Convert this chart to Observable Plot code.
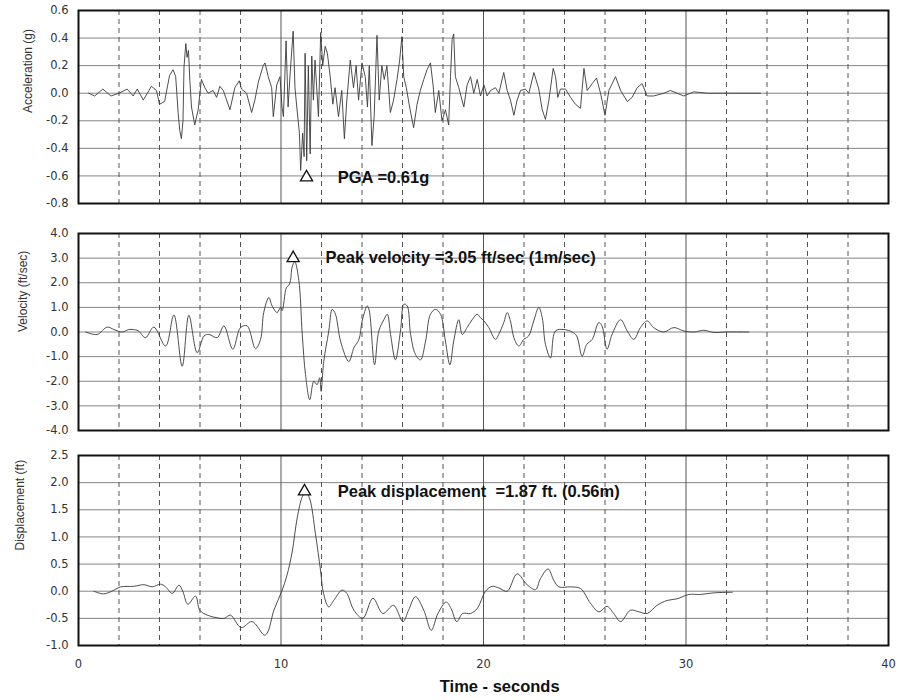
<!DOCTYPE html>
<html><head><meta charset="utf-8">
<script src="https://cdn.jsdelivr.net/npm/d3@7"></script>
<script src="https://cdn.jsdelivr.net/npm/@observablehq/plot@0.6"></script>
<style>body{margin:0;background:#fff}#chart svg{display:block}</style>
</head><body><div id="chart"></div>
<script>
// ---------- Data ----------
const accTime = [0.5,0.8,1.2,1.6,2.0,2.4,2.7,2.9,3.2,3.6,3.85,4.0,4.25,4.5,4.67,4.8,4.92,5.0,5.08,5.16,5.21,5.3,5.36,5.43,5.5,5.58,5.74,5.91,6.07,6.24,6.4,6.65,6.82,6.98,7.15,7.48,7.72,7.94,8.05,8.3,8.55,8.71,8.88,9.12,9.21,9.37,9.54,9.62,9.79,9.95,10.05,10.12,10.25,10.35,10.45,10.6,10.69,10.78,10.91,10.97,11.07,11.14,11.19,11.27,11.35,11.44,11.52,11.6,11.68,11.85,11.96,12.06,12.18,12.29,12.43,12.56,12.67,12.84,13.0,13.13,13.25,13.42,13.58,13.71,13.83,14.0,14.16,14.27,14.36,14.49,14.6,14.74,14.85,14.98,15.1,15.23,15.4,15.56,15.73,15.86,15.97,16.06,16.19,16.35,16.55,16.72,16.88,17.05,17.21,17.38,17.51,17.62,17.79,17.95,18.12,18.28,18.37,18.45,18.53,18.61,18.78,19.03,19.19,19.36,19.52,19.69,19.85,20.02,20.18,20.35,20.59,20.76,21.0,21.17,21.33,21.5,21.66,21.83,22.07,22.24,22.49,22.73,22.9,23.06,23.23,23.44,23.56,23.67,23.8,24.05,24.3,24.54,24.79,24.96,25.12,25.37,25.58,25.78,26.0,26.19,26.52,26.77,27.1,27.34,27.59,27.83,28.08,28.41,28.91,29.23,29.56,29.89,30.39,31.04,32.36,33.68];
const accValue = [0.0,-0.02,0.03,-0.02,0.0,0.03,-0.02,0.03,-0.05,0.05,0.02,-0.08,-0.06,0.13,0.17,0.12,-0.14,-0.27,-0.33,-0.2,0.19,0.36,0.26,0.31,0.09,-0.1,-0.23,-0.12,0.1,0.04,0.0,0.02,-0.03,0.05,0.02,-0.12,0.04,0.09,0.03,0.0,-0.14,-0.05,0.08,0.2,0.22,0.12,0.04,-0.17,0.06,0.12,-0.1,-0.17,0.38,-0.1,0.14,0.45,0.04,-0.1,-0.29,-0.56,-0.29,-0.46,0.29,-0.49,0.2,-0.44,0.27,-0.05,0.24,-0.17,0.44,0.2,0.34,0.29,0.12,-0.08,0.04,-0.17,0.02,-0.33,-0.05,0.24,0.04,0.2,-0.05,0.22,0.12,-0.1,0.2,-0.38,-0.17,0.42,-0.05,0.2,0.1,0.2,-0.14,-0.05,0.1,0.24,0.41,0.12,0.04,-0.1,-0.25,-0.08,0.02,0.1,0.17,0.22,0.06,-0.14,0.02,-0.2,-0.12,-0.23,0.12,0.39,0.43,0.12,0.04,-0.1,0.06,0.12,0.0,0.1,-0.02,0.06,-0.02,0.02,0.04,0.0,0.15,0.02,-0.05,-0.16,-0.05,0.02,0.03,0.0,0.15,0.03,-0.12,-0.19,-0.05,0.18,0.12,-0.03,0.03,0.03,-0.03,-0.08,-0.11,0.18,0.02,0.07,0.11,0.0,-0.16,0.02,0.12,0.02,-0.06,-0.03,0.04,0.07,-0.02,-0.02,0.0,0.02,0.0,-0.02,0.01,0.0,0.0,0.0];

const velTime = [0.35,0.92,1.42,1.75,2.16,2.48,2.7,2.95,3.31,3.72,4.3,4.71,5.12,5.45,5.86,6.2,6.44,6.85,7.18,7.62,8.0,8.33,8.74,8.99,9.15,9.4,9.56,9.81,9.98,10.06,10.27,10.39,10.47,10.55,10.68,10.88,11.05,11.21,11.42,11.62,11.78,11.91,11.98,12.11,12.36,12.53,12.69,12.94,13.35,13.6,13.85,14.01,14.26,14.36,14.62,14.83,15.08,15.25,15.41,15.65,15.9,16.07,16.23,16.4,16.64,16.89,17.14,17.38,17.63,17.88,18.12,18.34,18.53,18.78,18.95,19.19,19.44,19.69,19.85,20.02,20.26,20.59,20.75,21.0,21.17,21.33,21.5,21.74,21.99,22.23,22.48,22.73,22.9,23.06,23.31,23.55,23.97,24.38,24.6,24.87,25.1,25.37,25.69,25.85,26.1,26.35,26.77,27.1,27.42,27.75,28.08,28.4,28.9,29.4,29.89,30.4,30.88,31.37,32.0,33.1];
const velValue = [0,-0.1,0.2,0.1,0,0.1,0.1,0.05,-0.23,0.2,-0.57,0.69,-1.39,0.68,-0.84,-0.16,-0.1,-0.23,0.25,-0.7,0.18,0.25,-0.68,-0.3,0.8,1.4,1.06,0.79,1.0,0.87,1.81,1.9,2.1,2.64,2.85,2.1,-0.1,-1.73,-2.75,-2.0,-2.14,-1.86,-2.41,-1.2,0.04,0.92,0.72,-0.37,-1.2,-0.64,-0.3,0.45,1.06,0.86,-1.33,0.04,0.5,0.72,-0.1,-1.13,0.04,1.13,1.06,-0.1,-0.91,-1.13,-0.37,0.72,0.92,0.72,-0.37,-1.33,-0.37,0.5,-0.1,0.18,0.5,0.72,0.58,0.45,0.18,-0.3,-0.1,0.38,0.79,0.45,-0.23,-0.57,-0.3,-0.16,0.45,1.0,0.58,-0.5,-1.05,0.04,0.1,0.0,-0.16,-0.98,-0.5,-0.3,0.38,0.25,-0.7,-0.1,0.5,0.04,-0.3,0.18,0.45,0.18,0.0,0.18,0.04,0.0,0.07,-0.02,0.0,0.0];

const dispTime = [0.76,1.25,1.75,2.08,2.73,3.23,3.64,4.05,4.3,4.63,4.96,5.15,5.4,5.78,5.99,6.35,6.85,7.2,7.5,8.03,8.57,9.19,9.35,9.65,10.04,10.3,10.55,10.8,11.05,11.21,11.42,11.7,11.95,12.1,12.36,12.6,13.02,13.25,13.6,14.04,14.54,15.03,15.56,16.02,16.3,16.64,17.05,17.42,17.75,18.16,18.4,18.68,18.97,19.36,19.69,20.1,20.43,20.76,21.17,21.66,22.15,22.57,22.81,23.19,23.47,23.72,24.3,24.79,25.28,25.7,26.1,26.43,26.77,27.26,27.67,28.08,28.57,29.07,29.56,30.14,30.72,31.37,32.28];
const dispValue = [0.0,-0.05,0.02,0.08,0.09,0.12,0.08,0.13,0.08,-0.04,0.11,0.0,-0.24,-0.09,-0.35,-0.44,-0.49,-0.5,-0.44,-0.67,-0.56,-0.81,-0.75,-0.35,0.0,0.3,0.72,1.35,1.74,1.84,1.7,1.06,0.39,-0.04,-0.29,-0.17,0.02,-0.04,-0.35,-0.5,-0.13,-0.41,-0.26,-0.56,-0.35,-0.1,-0.35,-0.72,-0.41,-0.2,-0.32,-0.56,-0.41,-0.41,-0.32,0.0,0.09,0.06,0.0,0.32,0.12,0.03,0.23,0.41,0.2,0.08,0.08,0.05,-0.22,-0.38,-0.28,-0.41,-0.56,-0.35,-0.38,-0.41,-0.26,-0.17,-0.14,-0.06,-0.06,-0.03,-0.02];

const xTickLabels = [0, 10, 20, 30, 40];
const xMajorLines = [10, 20, 30];
const xMinorLines = [2, 4, 6, 8, 12, 14, 16, 18, 22, 24, 26, 28, 32, 34, 36, 38];
const accTicks = [-0.8, -0.6, -0.4, -0.2, 0.0, 0.2, 0.4, 0.6];
const velTicks = [-4, -3, -2, -1, 0, 1, 2, 3, 4];
const dispTicks = [-1.0, -0.5, 0.0, 0.5, 1.0, 1.5, 2.0, 2.5];

const yTitles = ["Acceleration (g)", "Velocity (ft/sec)", "Displacement (ft)"];
const xTitle = "Time - seconds";
const peakTime = [11.26, 10.6, 11.16];
const peakValue = [-0.61, 3.0, 1.84];
const peakLabels = ["PGA =0.61g", "Peak velocity =3.05 ft/sec (1m/sec)", "Peak displacement  =1.87 ft. (0.56m)"];
const peakLabelTime = [12.8, 12.2, 12.8];

// ---------- Drawing ----------
const toRows = (ts, vs) => ts.map((t, i) => ({t, v: vs[i]}));
const font = "'Liberation Sans', Arial, sans-serif";

function panel(o) {
  const rows = toRows(o.time, o.value);
  const marks = [
    Plot.ruleY(o.ticks, {stroke: "#858585", strokeWidth: 1}),
    Plot.ruleX(xMinorLines, {stroke: "#555", strokeWidth: 1, strokeDasharray: "5,4"}),
    Plot.ruleX(xMajorLines, {stroke: "#555", strokeWidth: 1}),
    Plot.line(rows, {x: "t", y: "v", stroke: "#3a3a3a", strokeWidth: 0.9, curve: o.curve}),
    Plot.frame({stroke: "#111", strokeWidth: 2}),
    Plot.axisY(o.ticks, {tickSize: 0, tickPadding: 10, tickFormat: d => d.toFixed(1), label: null,
      fontFamily: "'DejaVu Sans', sans-serif", fontSize: 11.5, fill: "#333"}),
    Plot.text([o.title], {frameAnchor: "left", rotate: -90, dx: -o.titleDx, dy: o.titleDy || 0,
      fontSize: 12, fill: "#333", fontFamily: font}),
    Plot.dot([o.idx], {x: i => peakTime[i], y: i => peakValue[i], symbol: "triangle", r: 4.5,
      stroke: "#111", strokeWidth: 1.3, fill: "white"}),
    Plot.text([o.idx], {x: i => peakLabelTime[i], y: i => peakValue[i], text: i => peakLabels[i],
      textAnchor: "start", fontWeight: "bold", fontSize: 16.5, fill: "#111", fontFamily: font})
  ];
  if (o.xAxis) {
    marks.push(Plot.axisX(xTickLabels, {tickSize: 0, tickPadding: 14, label: null,
      fontFamily: "'DejaVu Sans', sans-serif", fontSize: 11.5, fill: "#333"}));
    marks.push(Plot.text([xTitle], {x: 20.8, frameAnchor: "bottom", dy: 46, fontWeight: "bold",
      fontSize: 16.5, fill: "#111", fontFamily: font}));
  }
  return Plot.plot({
    width: 901, height: o.height,
    marginLeft: 78, marginRight: 13, marginTop: o.mt, marginBottom: o.mb,
    style: {fontFamily: font, background: "white", overflow: "hidden"},
    x: {domain: [0, 40], axis: o.xAxis ? undefined : null},
    y: {domain: o.domain},
    marks
  });
}

const chart = document.getElementById("chart");
chart.append(panel({time: accTime, value: accValue, ticks: accTicks, domain: [-0.8, 0.6],
  title: yTitles[0], titleDx: 50, titleDy: 6, idx: 0, curve: "linear", height: 218, mt: 10, mb: 15}));
chart.append(panel({time: velTime, value: velValue, ticks: velTicks, domain: [-4, 4],
  title: yTitles[1], titleDx: 55, idx: 1, curve: "catmull-rom", height: 222, mt: 15, mb: 10}));
chart.append(panel({time: dispTime, value: dispValue, ticks: dispTicks, domain: [-1, 2.5],
  title: yTitles[2], titleDx: 58, idx: 2, curve: "catmull-rom", height: 260, mt: 15, mb: 55, xAxis: true}));
</script></body></html>
